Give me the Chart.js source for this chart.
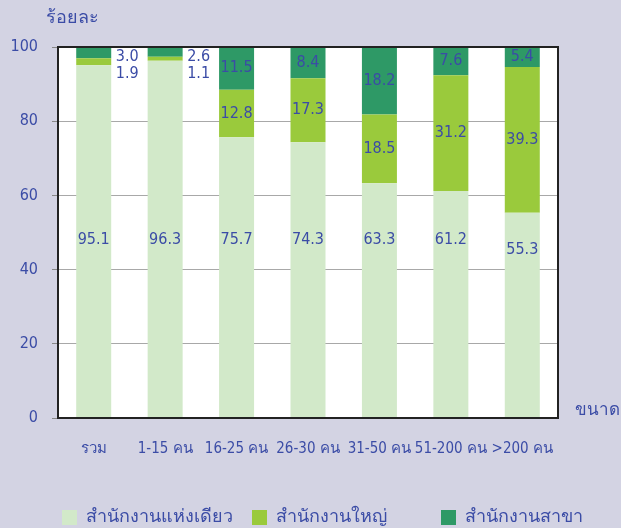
<!DOCTYPE html>
<html>
<head>
<meta charset="utf-8">
<script src="https://cdn.jsdelivr.net/npm/chart.js@4.4.1/dist/chart.umd.min.js"></script>
<style>
    html, body { margin: 0; padding: 0; background: #D3D3E3; }
    #wrap { width: 621px; height: 528px; position: relative; }
</style>
</head>
<body>
<div id="wrap"><canvas id="sizeChart"></canvas></div>
<script>
// Data
const categories = ['รวม', '1-15 คน', '16-25 คน', '26-30 คน', '31-50 คน', '51-200 คน', '>200 คน'];
const singleOffice = [95.1, 96.3, 75.7, 74.3, 63.3, 61.2, 55.3];
const headOffice = [1.9, 1.1, 12.8, 17.3, 18.5, 31.2, 39.3];
const branchOffice = [3.0, 2.6, 11.5, 8.4, 18.2, 7.6, 5.4];
const seriesLabels = ['สำนักงานแห่งเดียว', 'สำนักงานใหญ่', 'สำนักงานสาขา'];
const yTicks = [0, 20, 40, 60, 80, 100];

const textColor = '#3B4CA6';
const fontFamily = '"DejaVu Sans Condensed", Tahoma, sans-serif';
const colors = ['#D2E9C9', '#9ACA3C', '#2E9966'];

// White plot area behind the bars
const plotBgPlugin = {
    id: 'plotBg',
    beforeDraw(chart) {
        const a = chart.chartArea;
        chart.ctx.save();
        chart.ctx.fillStyle = '#FFFFFF';
        chart.ctx.fillRect(a.left, a.top, a.right - a.left, a.bottom - a.top);
        chart.ctx.restore();
    }
};

// Draws frame, value labels, axis titles and legend
const decorPlugin = {
    id: 'decor',
    afterDatasetsDraw(chart) {
        const ctx = chart.ctx;
        const area = chart.chartArea;
        const y = chart.scales.y;

        ctx.save();
        ctx.strokeStyle = '#222';
        ctx.lineWidth = 2;
        ctx.strokeRect(area.left, area.top, area.right - area.left, area.bottom - area.top);

        ctx.fillStyle = textColor;
        ctx.font = '16px ' + fontFamily;
        ctx.textAlign = 'center';
        ctx.textBaseline = 'middle';

        const metaSingle = chart.getDatasetMeta(0);

        categories.forEach((c, i) => {
            const x = metaSingle.data[i].x;
            const half = metaSingle.data[i].width / 2;
            const s = singleOffice[i];
            const h = headOffice[i];
            const b = branchOffice[i];

            ctx.fillText(s.toFixed(1), x, y.getPixelForValue(Math.min(48, s - 10)));

            if (h < 5) {
                // small segments: labels to the right of the bar
                const ox = x + half + 16;
                ctx.fillText(b.toFixed(1), ox, y.getPixelForValue(100) + 10);
                ctx.fillText(h.toFixed(1), ox, y.getPixelForValue(100) + 27);
            } else {
                ctx.fillText(h.toFixed(1), x, y.getPixelForValue(s + h / 2));
                ctx.fillText(b.toFixed(1), x, y.getPixelForValue(s + h + b / 2));
            }
        });

        // axis titles
        ctx.textAlign = 'left';
        ctx.font = '18px ' + fontFamily;
        ctx.fillText('ร้อยละ', 46, 18);
        ctx.textAlign = 'right';
        ctx.font = '17px ' + fontFamily;
        ctx.fillText('ขนาด', 620, 411);

        // legend
        ctx.textAlign = 'left';
        ctx.font = '18px ' + fontFamily;
        const legendX = [62, 252, 441];
        legendX.forEach((lx, i) => {
            ctx.fillStyle = colors[i];
            ctx.fillRect(lx, 510, 15, 15);
            ctx.fillStyle = textColor;
            ctx.fillText(seriesLabels[i], lx + 24, 517);
        });
        ctx.restore();
    }
};

new Chart(document.getElementById('sizeChart'), {
    type: 'bar',
    data: {
        labels: categories,
        datasets: [
            { label: seriesLabels[0], data: singleOffice, backgroundColor: colors[0] },
            { label: seriesLabels[1], data: headOffice, backgroundColor: colors[1] },
            { label: seriesLabels[2], data: branchOffice, backgroundColor: colors[2] }
        ]
    },
    options: {
        responsive: true,
        maintainAspectRatio: false,
        animation: false,
        layout: { padding: { top: 47, right: 63, left: 0, bottom: 0 } },
        datasets: {
            bar: { categoryPercentage: 1, barPercentage: 0.49, borderWidth: 0 }
        },
        plugins: {
            legend: { display: false },
            tooltip: { enabled: false }
        },
        scales: {
            x: {
                stacked: true,
                grid: { display: false },
                border: { display: false },
                ticks: {
                    color: textColor,
                    font: { family: fontFamily, size: 15 },
                    padding: 14,
                    maxRotation: 0,
                    autoSkip: false
                },
                afterFit(scale) { scale.height = 110; }
            },
            y: {
                stacked: true,
                min: 0,
                max: 100,
                afterBuildTicks(scale) { scale.ticks = yTicks.map(v => ({ value: v })); },
                grid: {
                    color: ctx => (ctx.tick && (ctx.tick.value === 0 || ctx.tick.value === 100)) ? 'rgba(0,0,0,0)' : '#A8A8A8',
                    borderDash: [1, 1],
                    tickColor: '#888',
                    tickLength: 6,
                    tickBorderDash: []
                },
                border: { display: false },
                ticks: {
                    color: textColor,
                    font: { family: fontFamily, size: 16 },
                    padding: 14
                },
                afterFit(scale) { scale.width = 58; }
            }
        }
    },
    plugins: [plotBgPlugin, decorPlugin]
});
</script>
</body>
</html>
